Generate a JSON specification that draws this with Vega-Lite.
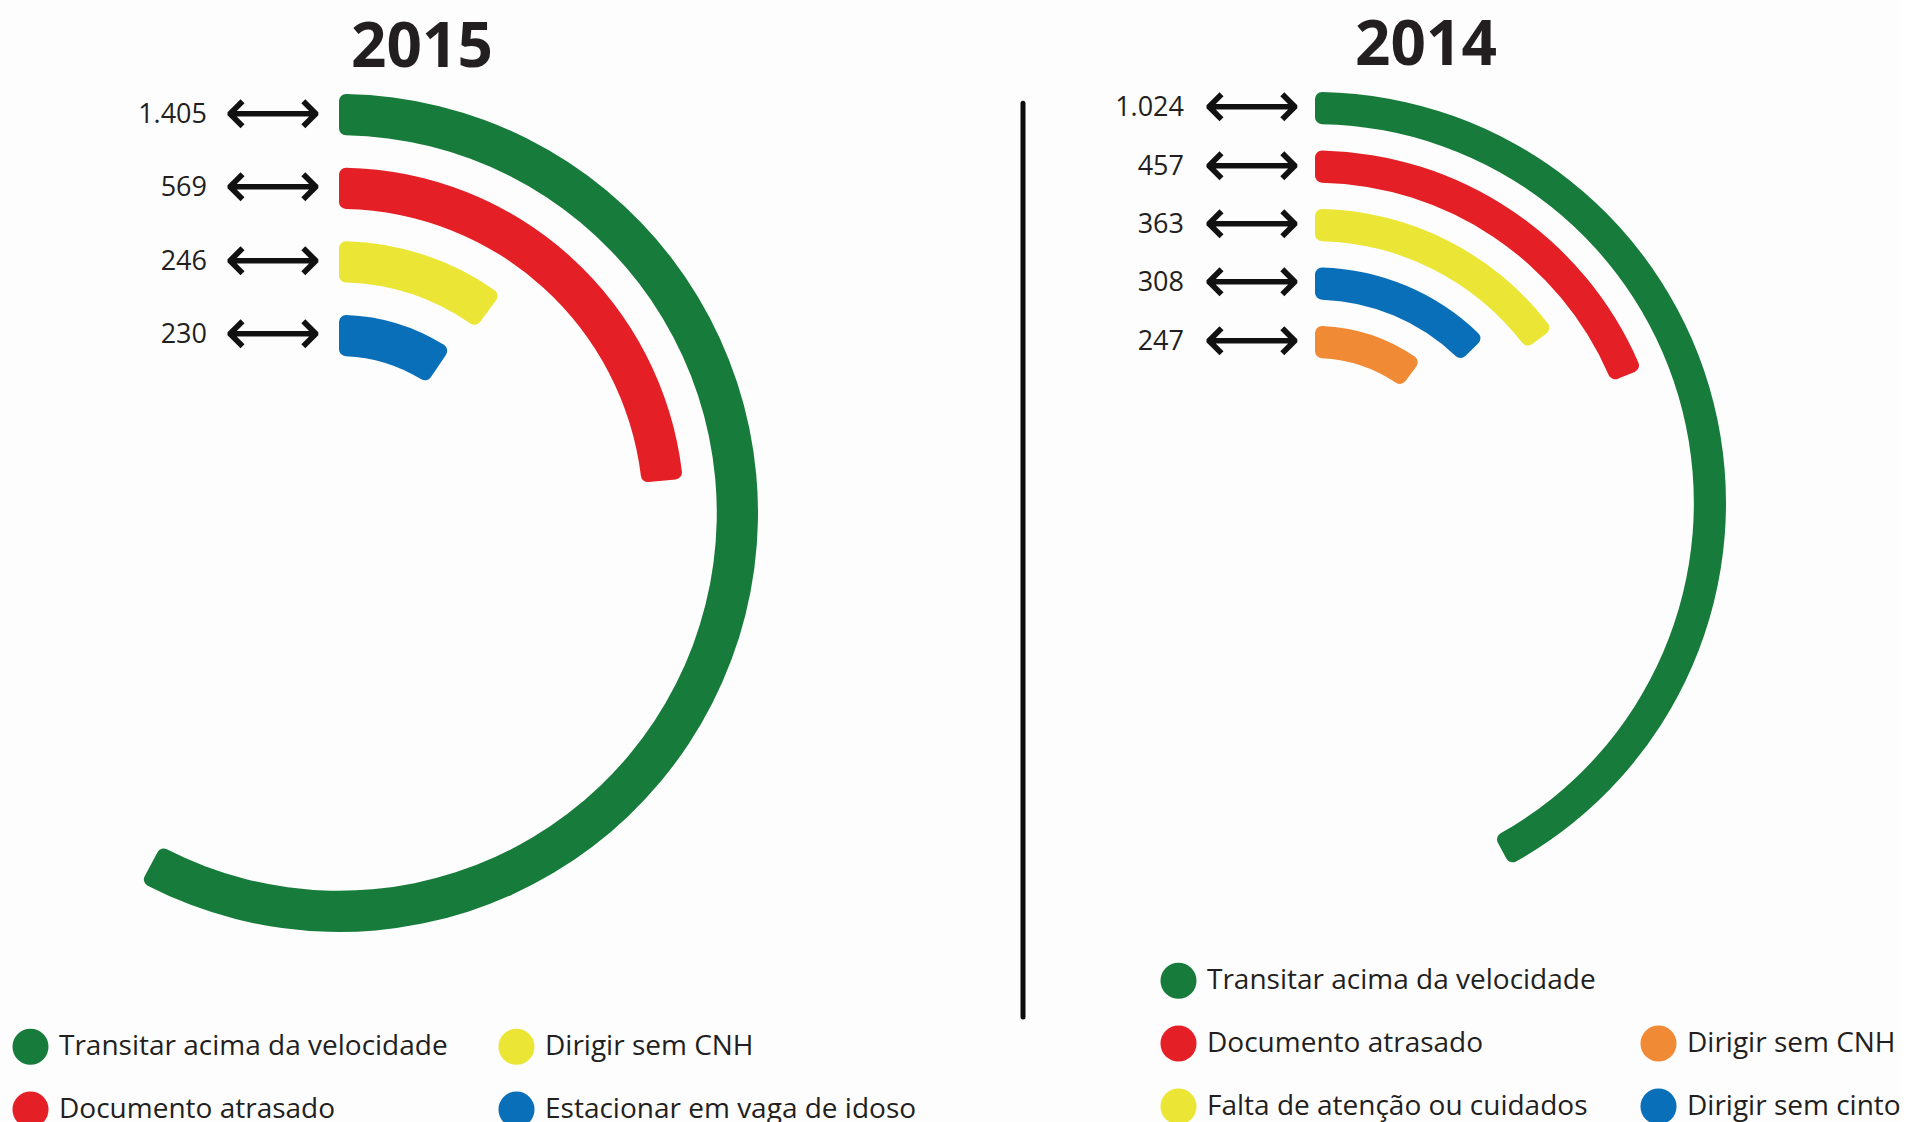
{
  "$schema": "https://vega.github.io/schema/vega-lite/v6.json",
  "background": "#fdfdfd",
  "padding": {"top": 15, "left": 0, "right": 0, "bottom": 0},
  "bounds": "flush",
  "spacing": 345,
  "config": {
    "view": {"stroke": null},
    "locale": {"number": {"decimal": ",", "thousands": ".", "grouping": [3], "currency": ["R$", ""]}},
    "legend": {
      "orient": "none",
      "title": null,
      "columns": 2,
      "symbolType": "circle",
      "symbolSize": 1300,
      "symbolStrokeWidth": 0,
      "symbolOpacity": 1,
      "labelFont": "Open Sans",
      "labelFontSize": 28,
      "labelColor": "#231f20",
      "labelOffset": 10,
      "labelLimit": 700,
      "rowPadding": 26
    }
  },
  "resolve": {"scale": {"color": "independent", "radius": "independent", "theta": "shared"}, "legend": {"color": "independent"}},
  "hconcat": [
    {
      "width": 678,
      "height": 836,
      "title": {"text": "2015", "font": "Open Sans", "fontSize": 62, "fontWeight": "bold", "color": "#231f20", "anchor": "middle", "frame": "group", "dx": 83, "offset": 1},
      "data": {"values": [
        {"ano": "2015", "infracao": "Transitar acima da velocidade", "valor": 1405},
        {"ano": "2015", "infracao": "Documento atrasado", "valor": 569},
        {"ano": "2015", "infracao": "Dirigir sem CNH", "valor": 246},
        {"ano": "2015", "infracao": "Estacionar em vaga de idoso", "valor": 230}
      ]},
      "layer": [
        {
          "mark": {"type": "arc", "cornerRadius": 7},
          "encoding": {
            "theta": {"field": "valor", "type": "quantitative", "stack": false, "scale": {"domain": [0, 2430]}},
            "radius": {"field": "infracao", "type": "nominal", "scale": {"type": "band", "domain": ["Estacionar em vaga de idoso", "Dirigir sem CNH", "Documento atrasado", "Transitar acima da velocidade"], "range": [157, 419], "paddingInner": 0.44, "paddingOuter": 0}},
            "color": {"field": "infracao", "type": "nominal",
              "scale": {"domain": ["Transitar acima da velocidade", "Documento atrasado", "Dirigir sem CNH", "Estacionar em vaga de idoso"], "range": ["#177c3b", "#e41f25", "#ebe635", "#0a6fb9"]},
              "legend": {"legendX": 12, "legendY": 933, "columnPadding": 50}}
          }
        },
        {
          "mark": {"type": "text", "align": "right", "baseline": "middle", "dx": -132, "font": "Open Sans", "fontSize": 27, "color": "#231f20"},
          "encoding": {
            "theta": {"datum": 0, "type": "quantitative"},
            "radius": {"field": "infracao", "type": "nominal", "bandPosition": 0.5},
            "text": {"field": "valor", "type": "quantitative", "format": ",d"}
          }
        },
        {
          "mark": {"type": "text", "align": "center", "baseline": "middle", "dx": -66, "font": "DejaVu Sans", "fontSize": 68, "text": "⟷", "color": "#111111"},
          "encoding": {
            "theta": {"datum": 0, "type": "quantitative"},
            "radius": {"field": "infracao", "type": "nominal", "bandPosition": 0.5}
          }
        }
      ]
    },
    {
      "width": 584,
      "height": 816,
      "title": {"text": "2014", "font": "Open Sans", "fontSize": 62, "fontWeight": "bold", "color": "#231f20", "anchor": "middle", "frame": "group", "dx": 111, "offset": -4},
      "data": {"values": [
        {"ano": "2014", "infracao": "Transitar acima da velocidade", "valor": 1024},
        {"ano": "2014", "infracao": "Documento atrasado", "valor": 457},
        {"ano": "2014", "infracao": "Falta de atenção ou cuidados", "valor": 363},
        {"ano": "2014", "infracao": "Dirigir sem cinto", "valor": 308},
        {"ano": "2014", "infracao": "Dirigir sem CNH", "valor": 247}
      ]},
      "layer": [
        {
          "data": {"values": [{}]},
          "mark": {"type": "rule", "strokeWidth": 5, "color": "#0d0d0d", "strokeCap": "round"},
          "encoding": {
            "x": {"datum": 0, "type": "quantitative", "scale": {"domain": [0, 1]}, "axis": null},
            "y": {"datum": 0.99, "type": "quantitative", "scale": {"domain": [0, 1]}, "axis": null},
            "y2": {"datum": -0.13}
          }
        },
        {
          "mark": {"type": "arc", "cornerRadius": 7},
          "encoding": {
            "theta": {"field": "valor", "type": "quantitative", "stack": false, "scale": {"domain": [0, 2430]}},
            "radius": {"field": "infracao", "type": "nominal", "scale": {"type": "band", "domain": ["Dirigir sem CNH", "Dirigir sem cinto", "Falta de atenção ou cuidados", "Documento atrasado", "Transitar acima da velocidade"], "range": [145, 411], "paddingInner": 0.45, "paddingOuter": 0}},
            "color": {"field": "infracao", "type": "nominal",
              "scale": {"domain": ["Transitar acima da velocidade", "Documento atrasado", "Falta de atenção ou cuidados", " ", "Dirigir sem CNH", "Dirigir sem cinto"], "range": ["#177c3b", "#e41f25", "#ebe635", "rgba(0,0,0,0)", "#f08a34", "#0a6fb9"]},
              "legend": {"legendX": 137, "legendY": 867, "columnPadding": 44}}
          }
        },
        {
          "mark": {"type": "text", "align": "right", "baseline": "middle", "dx": -131, "font": "Open Sans", "fontSize": 27, "color": "#231f20"},
          "encoding": {
            "theta": {"datum": 0, "type": "quantitative"},
            "radius": {"field": "infracao", "type": "nominal", "bandPosition": 0.5},
            "text": {"field": "valor", "type": "quantitative", "format": ",d"}
          }
        },
        {
          "mark": {"type": "text", "align": "center", "baseline": "middle", "dx": -63, "font": "DejaVu Sans", "fontSize": 68, "text": "⟷", "color": "#111111"},
          "encoding": {
            "theta": {"datum": 0, "type": "quantitative"},
            "radius": {"field": "infracao", "type": "nominal", "bandPosition": 0.5}
          }
        }
      ]
    }
  ]
}
